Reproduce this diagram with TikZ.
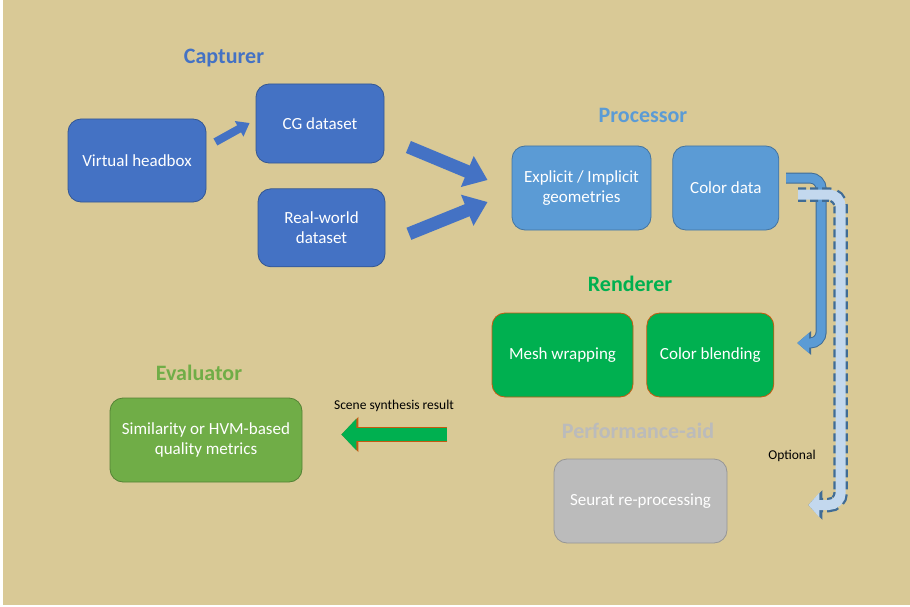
\documentclass[tikz,border=0pt]{standalone}
\usepackage{fontspec}
\setmainfont{Carlito}
\usepackage{xcolor}
\usetikzlibrary{positioning, arrows.meta}

\definecolor{sand}{HTML}{D9C996}
\definecolor{capblue}{HTML}{4472C4}
\definecolor{problue}{HTML}{5B9BD5}
\definecolor{optblue}{HTML}{C3D8EE}
\definecolor{renggreen}{HTML}{00B050}
\definecolor{evalgreen}{HTML}{70AD47}
\definecolor{perfgray}{HTML}{BBBBBB}
\definecolor{rust}{HTML}{C55A11}

\begin{document}
\begin{tikzpicture}[
    x=1pt, y=-1pt,
    box/.style={rectangle, draw=#1!75!black, line width=0.8pt, fill=#1, rounded corners=13pt, text=white, align=center, inner sep=2pt, font=\fontsize{17}{20}\selectfont},
    title/.style={font=\fontsize{22}{24}\selectfont\bfseries, text=#1},
    note/.style={font=\fontsize{13.5}{16}\selectfont, text=black},
    thinarrow/.style={draw=capblue, line width=8pt, -{Triangle[width=17pt, length=12pt]}},
    bigarrow/.style={draw=capblue, line width=13pt, -{Triangle[width=32pt, length=22pt]}},
    greenarrow/.style={draw=renggreen, line width=13pt, -{Triangle[width=31pt, length=15pt]},
        preaction={draw=rust, line width=15pt, -{Triangle[width=34pt, length=17pt]}}},
    bentarrow/.style={draw=problue, line width=9pt, rounded corners=11pt, -{Triangle[width=20pt, length=12pt]},
        preaction={draw=problue!70!black, line width=11pt, rounded corners=11pt, -{Triangle[width=23pt, length=14pt]}}},
    optarrow/.style={draw=optblue, line width=10pt, rounded corners=12pt, -{Triangle[width=24pt, length=11pt]},
        preaction={draw=problue!70!black, line width=14.5pt, dash pattern=on 8pt off 4pt, rounded corners=12pt, -{Triangle[width=29pt, length=14pt]}}},
]
% Background
\useasboundingbox (0,0) rectangle (910,607);
\fill[white] (0,0) rectangle (910,607);
\fill[sand] (3,0) rectangle (910,605);

% Capturer
\node[title=capblue] (capt) at (224,58) {Capturer};
\node[box=capblue, minimum width=138pt, minimum height=83pt] (vh) at (137,160.5) {Virtual headbox};
\node[box=capblue, minimum width=128pt, minimum height=79pt] (cg) at (320,123.5) {CG dataset};
\node[box=capblue, minimum width=127pt, minimum height=78pt, below=25pt of cg, xshift=1.5pt] (rw) {Real-world\\dataset};

% Processor
\node[title=problue] (proc) at (643,115) {Processor};
\node[box=problue, minimum width=139pt, minimum height=84pt] (geo) at (581.5,188) {Explicit / Implicit\\geometries};
\node[box=problue, minimum width=106pt, minimum height=84pt, right=21pt of geo] (cd) {Color data};

% Renderer
\node[title=renggreen] (rend) at (630,284) {Renderer};
\node[box=renggreen, draw=rust, minimum width=141pt, minimum height=84pt] (mesh) at (562.5,355) {Mesh wrapping};
\node[box=renggreen, draw=rust, minimum width=127pt, minimum height=84pt, right=13pt of mesh] (blend) {Color blending};

% Evaluator
\node[title=evalgreen] (evt) at (199,373) {Evaluator};
\node[box=evalgreen, minimum width=192pt, minimum height=84pt] (eval) at (206,440) {Similarity or HVM-based\\quality metrics};

% Performance-aid
\node[title=perfgray] (perf) at (638,431) {Performance-aid};
\node[box=perfgray, draw=perfgray!80!black, minimum width=173pt, minimum height=84pt] (seurat) at (640.5,501) {Seurat re-processing};

% Labels
\node[note] (scene) at (394,406) {Scene synthesis result};
\node[note] (opt) at (792,456) {Optional};

% Free ends
\coordinate (res) at (447,434.5);

% Arrows
\draw[thinarrow] ([shift={(9,-18.5)}]vh.east) -- ([shift={(-6,-0.5)}]cg.west);
\draw[bigarrow] ([shift={(24,23.5)}]cg.east) -- ([shift={(-24,-8)}]geo.west);
\draw[bigarrow] ([shift={(23.5,6)}]rw.east) -- ([shift={(-24,14)}]geo.west);
\draw[bentarrow] ([shift={(7,-10)}]cd.east) -- ++(35,0) |- ([shift={(23,-12)}]blend.east);
\draw[optarrow] ([shift={(19,6.5)}]cd.east) -- ++(42.5,0) |- ([shift={(81,4)}]seurat.east);
\draw[greenarrow] (res) -- ([shift={(39,-5.5)}]eval.east);

\end{tikzpicture}
\end{document}
